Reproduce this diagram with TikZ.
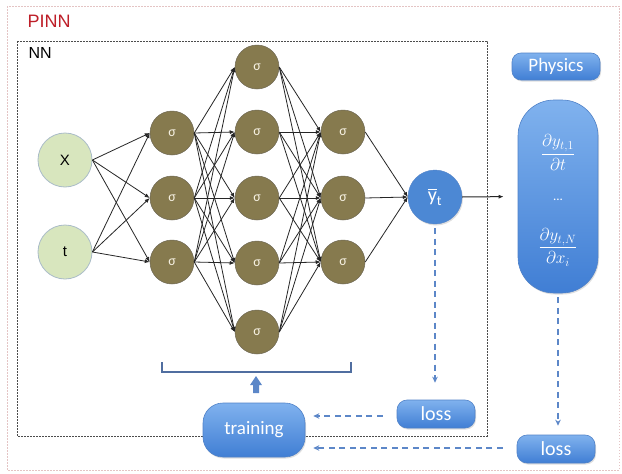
\documentclass[tikz,border=0pt]{standalone}
\usepackage{fontspec}
\setmainfont{Carlito}
\newfontfamily\arialf{Liberation Sans}
\usepackage{amsmath}
\usetikzlibrary{arrows.meta,shadows,calc}
\definecolor{inpfill}{RGB}{216,230,190}
\definecolor{inpdraw}{RGB}{170,188,200}
\definecolor{hidfill}{RGB}{134,122,78}
\definecolor{hiddraw}{RGB}{110,104,84}
\definecolor{hidtext}{RGB}{245,240,225}
\definecolor{bluetop}{RGB}{128,178,238}
\definecolor{bluebot}{RGB}{64,126,212}
\definecolor{blueedge}{RGB}{80,130,200}
\definecolor{outfill}{RGB}{76,136,212}
\definecolor{dashblue}{RGB}{92,135,200}
\definecolor{brackcol}{RGB}{80,110,160}
\definecolor{pinkline}{RGB}{228,196,196}
\definecolor{pinnred}{RGB}{190,30,40}
\begin{document}
\begin{tikzpicture}[x=1pt,y=-1pt,
  inp/.style={circle,minimum size=54pt,inner sep=0pt,fill=inpfill,draw=inpdraw,line width=0.8pt,font=\arialf\fontsize{15}{16}\selectfont},
  hid/.style={circle,minimum size=44pt,inner sep=0pt,fill=hidfill,draw=hiddraw,line width=0.5pt,text=hidtext,font=\fontsize{14}{15}\selectfont},
  conn/.style={-{Latex[length=5pt,width=4pt]},line width=0.8pt,black!85},
  bluebox/.style={rounded corners=#1,top color=bluetop,bottom color=bluebot,draw=blueedge,line width=0.6pt,text=white,inner sep=0pt,
    drop shadow={opacity=0.25,shadow xshift=1pt,shadow yshift=-1.5pt}},
  dashflow/.style={draw=dashblue,line width=1.4pt,dash pattern=on 6pt off 4.5pt,-{Stealth[length=6pt,width=5.5pt]}},
  fractxt/.style={text=white,font=\fontsize{18}{22}\selectfont}
]
\useasboundingbox (0,0) rectangle (622,474);
\fill[white] (0,0) rectangle (622,474);
% frames
\draw[pinkline,line width=1pt,dash pattern=on 1.5pt off 1.5pt] (7,6) rectangle (619,470);
\draw[black!70,line width=1pt,dash pattern=on 2pt off 1pt] (17,41) rectangle (487,436);
\node[anchor=west,text=pinnred,font=\arialf\fontsize{18}{19}\selectfont] (pinnlbl) at (24,21) {PINN};
\node[anchor=west,font=\arialf\fontsize{16}{17}\selectfont] (nnlbl) at (25,53) {NN};
% network nodes
\node[inp] (in1) at (65,160) {X};
\node[inp] (in2) at (65,252) {t};
\foreach \i/\y in {1/133,2/198,3/262} \node[hid] (a\i) at (172,\y) {σ};
\foreach \i/\y in {1/67,2/132,3/198,4/263,5/332} \node[hid] (b\i) at (257,\y) {σ};
\foreach \i/\y in {1/132,2/198,3/262} \node[hid] (c\i) at (343,\y) {σ};
\node[circle,minimum size=54pt,inner sep=0pt,fill=outfill,draw=blueedge,text=white,
  drop shadow={opacity=0.25,shadow xshift=1pt,shadow yshift=-1.5pt},
  font=\fontsize{20}{21}\selectfont] (out) at (435,197) {$\overline{\text{y}}_{\text{t}}$};
% connections
\foreach \i in {1,2} \foreach \j in {1,2,3} \draw[conn] (in\i.east) -- (a\j.west);
\foreach \i in {1,2,3} \foreach \j in {1,...,5} \draw[conn] (a\i.east) -- (b\j.west);
\foreach \i in {1,...,5} \foreach \j in {1,2,3} \draw[conn] (b\i.east) -- (c\j.west);
\foreach \i in {1,2,3} \draw[conn] (c\i.east) -- (out.west);
% physics side
\node[bluebox=9pt,minimum width=88pt,minimum height=27pt,font=\fontsize{19}{20}\selectfont] (phys) at (556,66.5) {Physics};
\node[bluebox=36pt,minimum width=80pt,minimum height=193pt] (pill) at (558,196.5) {};
\node[fractxt] (f1) at ($(pill.center)+(0,-44)$) {$\dfrac{\partial y_{t,1}}{\partial t}$};
\node[fractxt,font=\fontsize{13}{14}\selectfont] (dots) at ($(pill.center)+(0,3)$) {...};
\node[fractxt] (f2) at ($(pill.center)+(0,51)$) {$\dfrac{\partial y_{t,N}}{\partial x_i}$};
\draw[conn,line width=1pt,shorten >=14pt] (out.east) -- (pill.west);
% loss and training
\node[bluebox=10pt,minimum width=78pt,minimum height=28pt,font=\fontsize{20}{21}\selectfont] (loss1) at (436,414) {loss};
\node[bluebox=10pt,minimum width=78pt,minimum height=28pt,font=\fontsize{20}{21}\selectfont] (loss2) at (556,449) {loss};
\node[bluebox=20pt,minimum width=102pt,minimum height=54pt,font=\fontsize{19}{20}\selectfont] (train) at (254,430) {training};
\draw[dashflow,shorten <=4pt,shorten >=17pt] (out.south) -- (out.south |- loss1.north);
\draw[dashflow,shorten <=4pt,shorten >=9pt] (pill.south) -- (pill.south |- loss2.north);
\draw[dashflow,shorten <=14pt,shorten >=8pt] ($(loss1.west)+(0,2)$) -- ($(loss1.west -| train.east)+(0,2)$);
\draw[dashflow,shorten <=14pt,shorten >=8pt] ($(loss2.west)+(0,-1)$) -- ($(loss2.west -| train.east)+(0,-1)$);
% bracket and update arrow
\draw[brackcol,line width=1.6pt] (162,362) -- (162,372) -- (351,372) -- (351,362);
\fill[dashblue] (253,393) -- (253,385) -- (250,385) -- (256,376) -- (262,385) -- (259,385) -- (259,393) -- cycle;
\end{tikzpicture}
\end{document}
